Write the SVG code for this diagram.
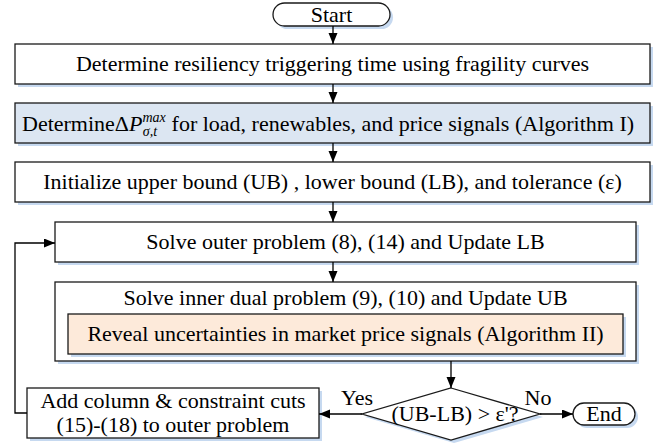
<svg xmlns="http://www.w3.org/2000/svg" width="656" height="445" viewBox="0 0 656 445">
<defs>
<marker id="ah" markerUnits="userSpaceOnUse" markerWidth="12" markerHeight="10" refX="11" refY="4.5" orient="auto">
<path d="M0,0 L11,4.5 L0,9 z" fill="#000"/>
</marker>
<style>
.box{fill:#fff;stroke:#1a1a1a;stroke-width:1.3}
.sh{fill:#c6d9f0}
.blue{fill:#dce6f2;stroke:#1a1a1a;stroke-width:1.3}
.org{fill:#fdeada;stroke:#1a1a1a;stroke-width:1.3}
.t{font-family:"Liberation Serif","Times New Roman",serif;font-size:22px;fill:#000}
.c{text-anchor:middle}
.ln{fill:none;stroke:#000;stroke-width:1.3}
</style>
</defs>
<rect width="656" height="445" fill="#fff"/>

<g id="start">
<rect class="sh" x="276" y="6" width="117" height="23" rx="11.5"/>
<rect class="box" x="273" y="3" width="117" height="23" rx="11.5"/>
<text class="t c" x="331.5" y="22">Start</text>
</g>

<g id="box1">
<rect class="sh" x="18" y="47" width="635" height="40"/>
<rect class="box" x="15" y="44" width="635" height="40"/>
<text class="t c" x="332.5" y="71">Determine resiliency triggering time using fragility curves</text>
</g>

<g id="box2">
<rect class="sh" x="18" y="106" width="635" height="40"/>
<rect class="blue" x="15" y="103" width="635" height="40"/>
<text class="t" x="22" y="131">Determine<tspan>Δ</tspan><tspan font-style="italic">P</tspan><tspan font-style="italic" font-size="14" dy="-9">max</tspan><tspan font-style="italic" font-size="14" dx="-23" dy="14">σ,t</tspan><tspan dx="9" dy="-5"> for load, renewables, and price signals (Algorithm I)</tspan></text>
</g>

<g id="box3">
<rect class="sh" x="18" y="165" width="635" height="40"/>
<rect class="box" x="15" y="162" width="635" height="40"/>
<text class="t c" x="332.5" y="189">Initialize upper bound (UB) , lower bound (LB), and tolerance (ε)</text>
</g>

<g id="box4">
<rect class="sh" x="58" y="225" width="581" height="40"/>
<rect class="box" x="55" y="222" width="581" height="40"/>
<text class="t c" x="345.5" y="249">Solve outer problem (8), (14) and Update LB</text>
</g>

<g id="box5">
<rect class="sh" x="58" y="285" width="581" height="79"/>
<rect class="box" x="55" y="282" width="581" height="79"/>
<text class="t c" x="345.5" y="305">Solve inner dual problem (9), (10) and Update UB</text>
<rect class="sh" x="71" y="317" width="555" height="40"/>
<rect class="org" x="68" y="314" width="555" height="40"/>
<text class="t c" x="345.5" y="341">Reveal uncertainties in market price signals (Algorithm II)</text>
</g>

<g id="decision">
<polygon class="sh" points="454,391 543,417 454,443 365,417"/>
<polygon class="box" points="451,388 540,414 451,440 362,414"/>
<text class="t c" x="455" y="421">(UB-LB) &gt; ε'?</text>
</g>

<g id="cuts">
<rect class="sh" x="30" y="391" width="292" height="50"/>
<rect class="box" x="27" y="388" width="292" height="50"/>
<text class="t c" x="173" y="408">Add column &amp; constraint cuts</text>
<text class="t c" x="173" y="432">(15)-(18) to outer problem</text>
</g>

<g id="end">
<rect class="sh" x="576" y="406" width="62" height="22" rx="11"/>
<rect class="box" x="573" y="403" width="62" height="22" rx="11"/>
<text class="t c" x="604" y="421">End</text>
</g>

<g id="connectors">
<line class="ln" x1="333" y1="26" x2="333" y2="44" marker-end="url(#ah)"/>
<line class="ln" x1="333" y1="84" x2="333" y2="103" marker-end="url(#ah)"/>
<line class="ln" x1="333" y1="143" x2="333" y2="162" marker-end="url(#ah)"/>
<line class="ln" x1="333" y1="202" x2="333" y2="222" marker-end="url(#ah)"/>
<line class="ln" x1="333" y1="262" x2="333" y2="282" marker-end="url(#ah)"/>
<line class="ln" x1="451" y1="361" x2="451" y2="388" marker-end="url(#ah)"/>
<line class="ln" x1="362" y1="414" x2="319" y2="414" marker-end="url(#ah)"/>
<line class="ln" x1="540" y1="414" x2="573" y2="414" marker-end="url(#ah)"/>
<polyline class="ln" points="27,413 15,413 15,243 55,243" marker-end="url(#ah)"/>
<text class="t c" x="357" y="405">Yes</text>
<text class="t c" x="538" y="405">No</text>
</g>
</svg>
